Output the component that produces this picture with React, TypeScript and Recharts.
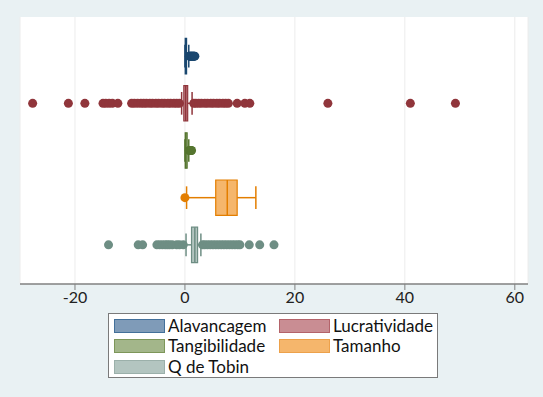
import {
  ComposedChart,
  Scatter,
  XAxis,
  YAxis,
  CartesianGrid,
  ReferenceArea,
  ReferenceLine,
} from "recharts";

const categories = ["Alavancagem", "Lucratividade", "Tangibilidade", "Tamanho", "Q de Tobin"];
const rowPos = [5, 4, 3, 2, 1];

const q1s = [0.05, -0.2, 0.05, 5.6, 1.2];
const medians = [0.15, 0.15, 0.15, 7.7, 1.8];
const q3s = [0.3, 0.5, 0.4, 9.5, 2.3];
const whiskerLo = [0, -0.6, 0, 0.3, 0.2];
const whiskerHi = [0.7, 1.3, 0.7, 12.9, 2.9];

const alavancagemOut = [0.8, 0.9, 1.0, 1.1, 1.2, 1.3, 1.4, 1.5, 1.6, 1.7, 1.8];
const lucratividadeOut = [
  -27.7, -21.2, -18.2, -14.9, -14.4, -13.8, -13.2, -12.2, -9.7, -9.2, -8.6, -8.0, -7.5, -7.0,
  -6.4, -5.9, -5.3, -4.8, -4.2, -3.7, -3.1, -2.6, -2.0, -1.5, -1.0, 1.6, 2.0, 2.5, 3.0, 3.6,
  4.1, 4.7, 5.2, 5.8, 6.3, 6.9, 7.4, 7.9, 9.5, 10.9, 11.8, 26.0, 41.0, 49.2,
];
const tangibilidadeOut = [0.8, 0.9, 1.0, 1.1, 1.2];
const tamanhoOut = [0];
const tobinOut = [
  -13.9, -8.5, -7.7, -5.1, -4.6, -4.1, -3.6, -3.2, -2.8, -2.3, -1.5, -1.0, -0.3, 3.2, 3.6, 4.1,
  4.6, 5.1, 5.6, 6.1, 6.6, 7.1, 7.6, 8.1, 8.6, 9.1, 9.6, 10.0, 11.7, 13.6, 16.2,
];
const outliers = [alavancagemOut, lucratividadeOut, tangibilidadeOut, tamanhoOut, tobinOut];

const xTicks = [-20, 0, 20, 40, 60];

const lineColors = ["#1a476f", "#90353b", "#55752f", "#e37e00", "#6e8e84"];
const fillColors = ["#7f9bb8", "#c98d93", "#a3b68a", "#f5b66c", "#b3c5c0"];
const borderColors = ["#43709a", "#b4636a", "#7d9659", "#eda14a", "#9bb0aa"];

const BOX_H = 0.375;
const CAP_H = 0.24;
const font = "Lato, 'Open Sans', sans-serif";

export default function App() {
  return (
    <div style={{ position: "absolute", left: 0, top: 0, width: 543, height: 397, background: "#e9f1f3", fontFamily: font }}>
      <ComposedChart width={543} height={397} margin={{ top: 17, right: 15, bottom: 83, left: 20 }}>
        <CartesianGrid horizontal={false} stroke="#ececec" fill="#ffffff" />
        <XAxis
          type="number"
          dataKey="x"
          domain={[-30, 62.4]}
          ticks={xTicks}
          allowDataOverflow
          height={30}
          tick={{ fill: "#222", fontSize: 16, fontFamily: font }}
          tickLine={{ stroke: "#808080" }}
          axisLine={{ stroke: "#808080", strokeWidth: 1.5 }}
        />
        <YAxis
          type="number"
          dataKey="y"
          domain={[0.17, 5.83]}
          width={0}
          tick={false}
          tickLine={false}
          axisLine={{ stroke: "#808080", strokeWidth: 1.5 }}
        />
        {categories.map((c, i) => (
          <Scatter
            key={c}
            name={c}
            data={outliers[i].map((v) => ({ x: v, y: rowPos[i] }))}
            fill={lineColors[i]}
            isAnimationActive={false}
          />
        ))}
        {categories.map((c, i) => (
          <ReferenceLine
            key={c + "-lo"}
            segment={[{ x: whiskerLo[i], y: rowPos[i] }, { x: q1s[i], y: rowPos[i] }]}
            stroke={lineColors[i]}
            strokeWidth={1.5}
          />
        ))}
        {categories.map((c, i) => (
          <ReferenceLine
            key={c + "-hi"}
            segment={[{ x: q3s[i], y: rowPos[i] }, { x: whiskerHi[i], y: rowPos[i] }]}
            stroke={lineColors[i]}
            strokeWidth={1.5}
          />
        ))}
        {categories.map((c, i) => (
          <ReferenceLine
            key={c + "-caplo"}
            segment={[{ x: whiskerLo[i], y: rowPos[i] - CAP_H }, { x: whiskerLo[i], y: rowPos[i] + CAP_H }]}
            stroke={lineColors[i]}
            strokeWidth={1.5}
          />
        ))}
        {categories.map((c, i) => (
          <ReferenceLine
            key={c + "-caphi"}
            segment={[{ x: whiskerHi[i], y: rowPos[i] - CAP_H }, { x: whiskerHi[i], y: rowPos[i] + CAP_H }]}
            stroke={lineColors[i]}
            strokeWidth={1.5}
          />
        ))}
        {categories.map((c, i) => (
          <ReferenceArea
            key={c + "-box"}
            x1={q1s[i]}
            x2={q3s[i]}
            y1={rowPos[i] - BOX_H}
            y2={rowPos[i] + BOX_H}
            fill={fillColors[i]}
            fillOpacity={1}
            stroke={lineColors[i]}
            strokeWidth={1.2}
          />
        ))}
        {categories.map((c, i) => (
          <ReferenceLine
            key={c + "-med"}
            segment={[{ x: medians[i], y: rowPos[i] - BOX_H }, { x: medians[i], y: rowPos[i] + BOX_H }]}
            stroke={lineColors[i]}
            strokeWidth={1.5}
          />
        ))}
      </ComposedChart>
      <div
        style={{
          position: "absolute",
          left: 108,
          top: 313,
          width: 328,
          height: 63,
          background: "#fff",
          border: "1.5px solid #7a7a7a",
        }}
      >
        {categories.map((c, i) => {
          const col = i % 2;
          const row = Math.floor(i / 2);
          return (
            <div
              key={c}
              style={{
                position: "absolute",
                left: col === 0 ? 5 : 170,
                top: 2 + row * 20.3,
                display: "flex",
                alignItems: "center",
                height: 20,
              }}
            >
              <div
                style={{
                  width: 49,
                  height: 12,
                  background: fillColors[i],
                  border: `1.5px solid ${borderColors[i]}`,
                  marginRight: 3,
                }}
              />
              <span style={{ fontSize: 17, color: "#111", lineHeight: "20px" }}>{c}</span>
            </div>
          );
        })}
      </div>
    </div>
  );
}
